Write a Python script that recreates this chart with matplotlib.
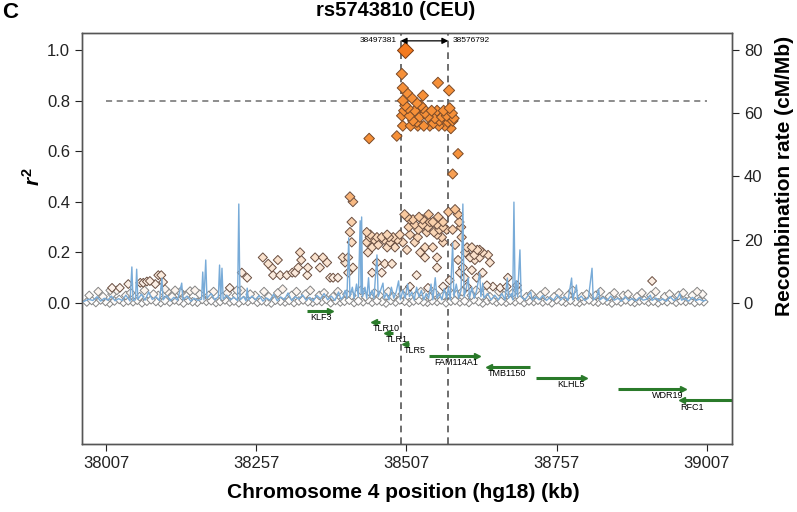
import matplotlib
matplotlib.use("Agg")
import matplotlib.pyplot as plt
import numpy as np
from matplotlib.colors import LinearSegmentedColormap

plt.rcParams['font.family'] = ['Liberation Sans', 'DejaVu Sans']
plt.rcParams['mathtext.fontset'] = 'custom'
plt.rcParams['mathtext.it'] = 'Liberation Sans:bold:italic'
plt.rcParams['mathtext.rm'] = 'Liberation Sans:bold'

# ---------------- data ----------------
x_ticks = [38007, 38257, 38507, 38757, 39007]
y_ticks = [0.0, 0.2, 0.4, 0.6, 0.8, 1.0]
rec_ticks = [0, 20, 40, 60, 80]
boundaries = [38497.381, 38576.792]
boundary_labels = ["38497381", "38576792"]

lead_pos = [38505]
lead_r2 = [1.0]

base_pos = [
    37975, 37983, 37990, 37998, 38006, 38013, 38021, 38029, 38036, 38044, 38052, 38059, 38067, 38075, 38082,
    38090, 38098, 38105, 38113, 38121, 38128, 38136, 38144, 38151, 38159, 38167, 38174, 38182, 38190, 38197,
    38205, 38213, 38220, 38228, 38236, 38243, 38251, 38259, 38266, 38274, 38282, 38289, 38297, 38305, 38312,
    38320, 38328, 38335, 38343, 38351, 38358, 38366, 38374, 38381, 38389, 38397, 38404, 38412, 38420, 38427,
    38435, 38443, 38450, 38458, 38466, 38473, 38481, 38489, 38496, 38504, 38512, 38519, 38527, 38535, 38542,
    38550, 38558, 38565, 38573, 38581, 38588, 38596, 38604, 38611, 38619, 38627, 38634, 38642, 38650, 38657,
    38665, 38673, 38680, 38688, 38696, 38703, 38711, 38719, 38726, 38734, 38742, 38749, 38757, 38765, 38772,
    38780, 38788, 38795, 38803, 38811, 38818, 38826, 38834, 38841, 38849, 38857, 38864, 38872, 38880, 38887,
    38895, 38903, 38910, 38918, 38926, 38933, 38941, 38949, 38956, 38964, 38972, 38979, 38987, 38995, 39002]
base_r2 = [
    0.004, 0.010, 0.002, 0.012, 0.006, 0.000, 0.008, 0.014, 0.003, 0.009, 0.005, 0.011, 0.001, 0.007, 0.013,
    0.006, 0.002, 0.010, 0.004, 0.012, 0.008, 0.000, 0.011, 0.005, 0.003, 0.014, 0.007, 0.009, 0.002, 0.006,
    0.012, 0.004, 0.008, 0.001, 0.010, 0.006, 0.013, 0.003, 0.009, 0.005, 0.000, 0.011, 0.007, 0.004, 0.010,
    0.002, 0.008, 0.012, 0.005, 0.003, 0.009, 0.006, 0.014, 0.001, 0.010, 0.004, 0.007, 0.011, 0.002, 0.008,
    0.005, 0.013, 0.003, 0.009, 0.006, 0.000, 0.010, 0.004, 0.012, 0.007, 0.002, 0.008, 0.011, 0.005, 0.003,
    0.009, 0.006, 0.012, 0.001, 0.007, 0.010, 0.004, 0.008, 0.002, 0.013, 0.006, 0.000, 0.009, 0.011, 0.004,
    0.007, 0.003, 0.010, 0.005, 0.012, 0.002, 0.008, 0.006, 0.011, 0.004, 0.009, 0.001, 0.013, 0.007, 0.003,
    0.010, 0.005, 0.002, 0.008, 0.012, 0.006, 0.003, 0.011, 0.007, 0.000, 0.009, 0.004, 0.012, 0.006, 0.002,
    0.008, 0.011, 0.004, 0.007, 0.001, 0.010, 0.005, 0.013, 0.003, 0.009, 0.006, 0.012, 0.002, 0.008, 0.005]

low_pos = [
    37979, 37994, 38002, 38017, 38025, 38040, 38048, 38063, 38071, 38086,
    38094, 38109, 38117, 38132, 38140, 38155, 38163, 38178, 38186, 38201,
    38209, 38224, 38232, 38247, 38255, 38270, 38278, 38293, 38301, 38316,
    38324, 38339, 38347, 38362, 38370, 38385, 38393, 38408, 38416, 38431,
    38439, 38454, 38462, 38477, 38485, 38500, 38508, 38523, 38531, 38546,
    38554, 38569, 38577, 38592, 38600, 38615, 38623, 38638, 38646, 38661,
    38669, 38684, 38692, 38707, 38715, 38730, 38738, 38753, 38761, 38776,
    38784, 38799, 38807, 38822, 38830, 38845, 38853, 38868, 38876, 38891,
    38899, 38914, 38922, 38937, 38945, 38960, 38968, 38983, 38991, 39000]
low_r2 = [
    0.030, 0.045, 0.025, 0.035, 0.050, 0.030, 0.040, 0.025, 0.050, 0.035,
    0.030, 0.045, 0.025, 0.040, 0.030, 0.050, 0.035, 0.030, 0.045, 0.025,
    0.040, 0.030, 0.050, 0.035, 0.030, 0.045, 0.025, 0.040, 0.055, 0.030,
    0.045, 0.035, 0.050, 0.030, 0.040, 0.025, 0.045, 0.035, 0.030, 0.050,
    0.025, 0.040, 0.030, 0.045, 0.025, 0.035, 0.050, 0.030, 0.045, 0.025,
    0.040, 0.030, 0.050, 0.035, 0.045, 0.030, 0.050, 0.040, 0.025, 0.045,
    0.030, 0.040, 0.050, 0.025, 0.035, 0.030, 0.045, 0.025, 0.040, 0.030,
    0.050, 0.025, 0.035, 0.030, 0.045, 0.025, 0.040, 0.030, 0.035, 0.025,
    0.040, 0.030, 0.045, 0.025, 0.035, 0.030, 0.040, 0.030, 0.045, 0.035]

mid_pos = [
    38014, 38017, 38030, 38044, 38064, 38069, 38075, 38080, 38089, 38094,
    38099, 38102, 38105, 38122, 38130, 38147, 38213, 38225, 38233, 38242,
    38268, 38277, 38283, 38293, 38285, 38297, 38308, 38317, 38322, 38330,
    38332, 38327, 38342, 38343, 38355, 38363, 38368, 38375, 38380, 38385,
    38393, 38401, 38405, 38410, 38418, 38416, 38413, 38416, 38410, 38441,
    38446, 38458, 38466, 38475, 38485, 38480, 38488, 38441, 38450, 38460,
    38475, 38443, 38458, 38471, 38483, 38450, 38466, 38504, 38513, 38521,
    38534, 38546, 38558, 38568, 38508, 38518, 38534, 38551, 38568, 38574,
    38513, 38526, 38541, 38558, 38566, 38501, 38521, 38538, 38551, 38568,
    38508, 38530, 38558, 38538, 38524, 38558, 38579, 38568, 38543, 38513,
    38588, 38593, 38595, 38598, 38599, 38584, 38588, 38608, 38616, 38629,
    38634, 38593, 38601, 38613, 38621, 38629, 38643, 38646, 38596, 38604,
    38616, 38624, 38634, 38608, 38641, 38651, 38663, 38674, 38676, 38691,
    38916, 38413, 38418, 38447, 38453, 38470, 38478, 38492, 38496, 38511,
    38527, 38543, 38553, 38562, 38528, 38544, 38560, 38577, 38625, 38620,
    38605]
mid_r2 = [
    0.050, 0.060, 0.060, 0.075, 0.080, 0.080, 0.085, 0.087, 0.075, 0.110,
    0.110, 0.083, 0.055, 0.050, 0.043, 0.047, 0.060, 0.050, 0.120, 0.100,
    0.180, 0.155, 0.140, 0.170, 0.110, 0.110, 0.110, 0.120, 0.120, 0.200,
    0.170, 0.140, 0.110, 0.140, 0.180, 0.140, 0.180, 0.160, 0.100, 0.100,
    0.100, 0.180, 0.160, 0.120, 0.140, 0.320, 0.280, 0.240, 0.180, 0.280,
    0.260, 0.260, 0.260, 0.270, 0.260, 0.240, 0.220, 0.240, 0.220, 0.230,
    0.220, 0.200, 0.160, 0.155, 0.155, 0.120, 0.120, 0.350, 0.330, 0.310,
    0.330, 0.320, 0.310, 0.320, 0.340, 0.330, 0.310, 0.320, 0.300, 0.290,
    0.270, 0.260, 0.280, 0.270, 0.260, 0.240, 0.240, 0.220, 0.220, 0.240,
    0.210, 0.200, 0.180, 0.180, 0.110, 0.140, 0.090, 0.065, 0.060, 0.065,
    0.370, 0.350, 0.320, 0.300, 0.260, 0.290, 0.230, 0.220, 0.220, 0.210,
    0.200, 0.170, 0.140, 0.180, 0.170, 0.180, 0.190, 0.160, 0.120, 0.100,
    0.130, 0.100, 0.120, 0.065, 0.070, 0.065, 0.060, 0.065, 0.100, 0.070,
    0.087, 0.420, 0.400, 0.270, 0.250, 0.250, 0.260, 0.250, 0.270, 0.300,
    0.290, 0.300, 0.280, 0.290, 0.340, 0.350, 0.340, 0.360, 0.210, 0.190,
    0.200]

high_pos = [
    38499.5, 38559.5, 38578, 38501, 38508, 38516, 38534.5, 38524.5, 38501, 38509.5,
    38521, 38534.5, 38529.5, 38543, 38558, 38566, 38579, 38583, 38584, 38576,
    38499.5, 38524.5, 38554.5, 38501, 38526, 38546, 38571, 38581, 38445, 38491,
    38593, 38584, 38505, 38512, 38518, 38531, 38538, 38549, 38552, 38562,
    38569, 38574, 38586, 38514, 38536, 38561, 38503]
high_r2 = [
    0.905, 0.870, 0.840, 0.850, 0.830, 0.810, 0.820, 0.790, 0.800, 0.770,
    0.760, 0.770, 0.735, 0.735, 0.760, 0.735, 0.770, 0.750, 0.720, 0.715,
    0.740, 0.715, 0.730, 0.700, 0.700, 0.700, 0.700, 0.690, 0.650, 0.660,
    0.590, 0.510, 0.780, 0.740, 0.720, 0.780, 0.750, 0.760, 0.710, 0.720,
    0.760, 0.740, 0.730, 0.700, 0.700, 0.700, 0.760]

rec_pos = [
    37970, 37978, 37985, 37992, 37998, 38004, 38010, 38016, 38022, 38028,
    38034, 38040, 38047, 38050, 38052, 38056, 38058, 38060, 38066, 38072,
    38078, 38084, 38090, 38096, 38100, 38102, 38108, 38114, 38120, 38126,
    38133, 38135, 38142, 38148, 38154, 38160, 38166, 38168, 38170, 38173,
    38175, 38182, 38188, 38194, 38196, 38198, 38200, 38202, 38208, 38214,
    38220, 38226, 38228, 38230, 38236, 38240, 38242, 38244, 38250, 38256,
    38262, 38268, 38274, 38280, 38286, 38292, 38298, 38304, 38310, 38316,
    38322, 38328, 38334, 38340, 38346, 38352, 38358, 38364, 38370, 38376,
    38382, 38388, 38394, 38398, 38402, 38405, 38408, 38411, 38413, 38417,
    38420, 38424, 38427, 38430, 38431.5, 38432.5, 38434, 38438, 38441, 38444,
    38446, 38450, 38453, 38458, 38460, 38464, 38468, 38470, 38474, 38478,
    38482, 38486, 38490, 38494, 38497, 38501, 38505, 38509, 38512, 38516,
    38520, 38524, 38528, 38532, 38536, 38540, 38544, 38548, 38551, 38555,
    38558, 38562, 38566, 38570, 38574, 38577, 38580, 38584, 38586, 38590,
    38594, 38598, 38601, 38603, 38607, 38610, 38612, 38616, 38620, 38624,
    38629, 38631, 38634, 38636, 38642, 38648, 38654, 38660, 38666, 38671,
    38675, 38677, 38682, 38684, 38686, 38688, 38690, 38692, 38696, 38698,
    38704, 38710, 38714, 38716, 38722, 38728, 38734, 38740, 38746, 38752,
    38758, 38764, 38770, 38776, 38782, 38784, 38790, 38792, 38798, 38804,
    38810, 38816, 38818, 38824, 38827, 38829, 38835, 38841, 38847, 38853,
    38859, 38865, 38871, 38877, 38883, 38889, 38895, 38901, 38907, 38913,
    38916, 38922, 38928, 38934, 38940, 38946, 38952, 38958, 38962, 38965,
    38971, 38977, 38983, 38989, 38995, 39001, 39005]
rec_rate = [
    0.5, 1.2, 0.8, 2.0, 0.6, 1.5, 0.9, 2.2, 0.7, 1.4,
    0.8, 2.5, 0.6, 11.4, 0.8, 1.0, 10.7, 1.2, 2.8, 0.9,
    3.5, 1.1, 2.0, 0.8, 7.9, 1.0, 2.4, 0.7, 1.8, 0.9,
    6.3, 1.0, 2.2, 0.6, 1.5, 0.8, 1.2, 9.8, 1.0, 13.6,
    1.5, 3.0, 1.0, 2.0, 12.0, 1.0, 11.0, 1.2, 2.5, 1.0,
    1.8, 0.8, 31.3, 1.0, 2.0, 0.7, 4.7, 1.0, 2.2, 1.0,
    2.4, 0.6, 1.6, 0.9, 2.8, 0.7, 1.9, 1.1, 3.2, 0.8,
    2.0, 1.2, 2.6, 0.9, 1.8, 0.7, 2.4, 1.3, 3.0, 1.0,
    2.2, 0.8, 3.5, 1.2, 2.0, 4.0, 1.5, 20.6, 2.0, 5.0,
    1.5, 6.0, 2.0, 26.0, 3.0, 27.2, 2.0, 5.0, 1.5, 8.0,
    2.0, 4.0, 1.5, 15.2, 2.0, 4.0, 6.3, 1.5, 3.0, 1.0,
    5.0, 1.5, 3.5, 7.0, 1.0, 4.0, 1.5, 6.0, 2.0, 3.5,
    1.0, 5.0, 2.0, 4.0, 1.0, 3.0, 1.5, 6.0, 1.0, 8.0,
    1.5, 3.0, 1.0, 4.5, 1.5, 5.0, 1.0, 19.0, 2.0, 6.0,
    1.5, 4.0, 31.3, 2.0, 5.0, 8.0, 1.5, 5.0, 1.5, 4.0,
    9.5, 2.0, 6.3, 1.5, 3.0, 1.0, 2.5, 1.0, 3.0, 1.0,
    7.9, 1.5, 3.0, 1.0, 31.9, 2.0, 7.0, 2.0, 16.8, 2.0,
    1.0, 2.5, 3.5, 1.0, 2.0, 1.0, 2.4, 0.8, 1.8, 0.9,
    2.6, 1.0, 2.0, 0.8, 7.9, 1.0, 5.7, 1.0, 2.2, 0.8,
    1.6, 11.0, 1.0, 2.0, 4.4, 1.0, 1.8, 0.7, 2.2, 0.9,
    1.5, 0.6, 2.0, 0.8, 1.4, 0.7, 1.8, 0.9, 1.2, 2.5,
    0.8, 1.6, 0.7, 1.3, 0.6, 2.0, 0.8, 1.5, 3.0, 0.9,
    1.4, 0.6, 1.8, 0.8, 1.2, 0.6, 0.9]

gene_names = ["KLF3", "TLR10", "TLR1", "TLR5", "FAM114A1", "TMB1150", "KLHL5", "WDR19", "RFC1"]
gene_start = [38341, 38453, 38475, 38504, 38544, 38644, 38722, 38860, 38965]
gene_end = [38380, 38463, 38485, 38511, 38624, 38712, 38802, 38967, 39060]
gene_strand = ["+", "-", "-", "-", "+", "-", "+", "+", "-"]
gene_row = [-0.032, -0.075, -0.119, -0.162, -0.208, -0.252, -0.295, -0.340, -0.385]

# ---------------- figure ----------------
fig = plt.figure(figsize=(7.97, 5.12), dpi=100)
ax = fig.add_axes([82 / 797, 68 / 512, 650 / 797, 411 / 512])
ax.set_xlim(37967, 39049)
ax.set_ylim(-0.557, 1.067)

cmap = LinearSegmentedColormap.from_list(
    "ld", [(0.0, "#ffffff"), (0.12, "#fbefe6"), (0.55, "#f9cfa9"),
           (0.75, "#f8aa66"), (1.0, "#f69038")])

pos_all = np.array(base_pos + low_pos + mid_pos + high_pos, dtype=float)
r2_all = np.array(base_r2 + low_r2 + mid_r2 + high_r2, dtype=float)
order = np.argsort(r2_all, kind="stable")
pos_all = pos_all[order]
r2_all = r2_all[order]
face = cmap(np.clip(r2_all / 0.6, 0, 1))
edge = ["#858585" if v < 0.06 else ("#6a4e40" if v < 0.45 else "#7a4a28") for v in r2_all]
px = 8.6 + 3.0 * np.clip(r2_all, 0, 0.9)
sizes = (px * 0.72 / 1.414) ** 2
ax.scatter(pos_all, r2_all, s=sizes, marker="D", c=face, edgecolors=edge,
           linewidths=0.7, zorder=3)
lead_px = 16
ax.scatter(lead_pos, lead_r2, s=(lead_px * 0.72 / 1.414) ** 2, marker="D",
           c="#f47a1f", edgecolors="#7a3a10", linewidths=0.7, zorder=4)

# threshold and boundary lines
ax.plot([x_ticks[0], x_ticks[-1]], [0.8, 0.8], color="#6e6e6e", lw=1.1,
        ls=(0, (4, 3)), zorder=2)
for b in boundaries:
    ax.axvline(b, color="#555555", lw=1.2, ls=(0, (4, 3)), zorder=2)
ax.annotate("", xy=(boundaries[1], 1.036), xytext=(boundaries[0], 1.036),
            arrowprops=dict(arrowstyle="<|-|>", color="black", lw=0.9,
                            mutation_scale=9, shrinkA=0, shrinkB=0), zorder=5)
ax.text(boundaries[0] - 7, 1.036, boundary_labels[0], ha="right", va="center",
        fontsize=6)
ax.text(boundaries[1] + 7, 1.036, boundary_labels[1], ha="left", va="center",
        fontsize=6)

# genes
gcol = "#2a7a2a"
for name, s, e, st, y in zip(gene_names, gene_start, gene_end, gene_strand, gene_row):
    ax.plot([s, e], [y, y], color=gcol, lw=2.2, solid_capstyle="butt", zorder=3,
            clip_on=True)
    if st == "+":
        ax.plot([e], [y], marker=">", ms=4, color=gcol, zorder=3)
        ax.text(e + 2, y - 0.027, name, ha="right", va="center", fontsize=6.5)
    else:
        ax.plot([s], [y], marker="<", ms=4, color=gcol, zorder=3)
        ax.text(s - 2, y - 0.027, name, ha="left", va="center", fontsize=6.5)

# axes styling
ax.set_xticks(x_ticks)
ax.set_xticklabels([str(t) for t in x_ticks])
ax.set_yticks(y_ticks)
ax.set_yticklabels(["%.1f" % t for t in y_ticks])
ax.tick_params(direction="out", length=5, width=0.8, labelsize=12, colors="#222222")
for sp in ax.spines.values():
    sp.set_color("#555555")
    sp.set_linewidth(1.0)

ax2 = ax.twinx()
ax2.set_ylim(-0.557 * 80, 1.067 * 80)
ax2.set_yticks(rec_ticks)
ax2.set_yticklabels([str(t) for t in rec_ticks])
ax2.tick_params(direction="out", length=5, width=0.8, labelsize=12, colors="#222222")
for sp in ax2.spines.values():
    sp.set_color("#555555")
    sp.set_linewidth(1.0)
ax2.plot(rec_pos, rec_rate, color="#78abd8", lw=1.0, zorder=5)
ax2.set_xlim(37967, 39049)

# texts
fig.text(396 / 797, 1 - 11 / 512, "rs5743810 (CEU)", ha="center", va="center",
         fontsize=14.5, fontweight="bold")
fig.text(2 / 797, 1 - 12 / 512, "C", ha="left", va="center", fontsize=16,
         fontweight="bold")
fig.text(33 / 797, 1 - 177 / 512, r"$r^{\mathrm{2}}$", ha="center", va="center",
         rotation=90, fontsize=15)
fig.text(784 / 797, 1 - 176 / 512, "Recombination rate (cM/Mb)", ha="center",
         va="center", rotation=90, fontsize=15, fontweight="bold")
fig.text(403 / 797, 1 - 492 / 512, "Chromosome 4 position (hg18) (kb)",
         ha="center", va="center", fontsize=15, fontweight="bold")

fig.savefig("out.png", dpi=100)
